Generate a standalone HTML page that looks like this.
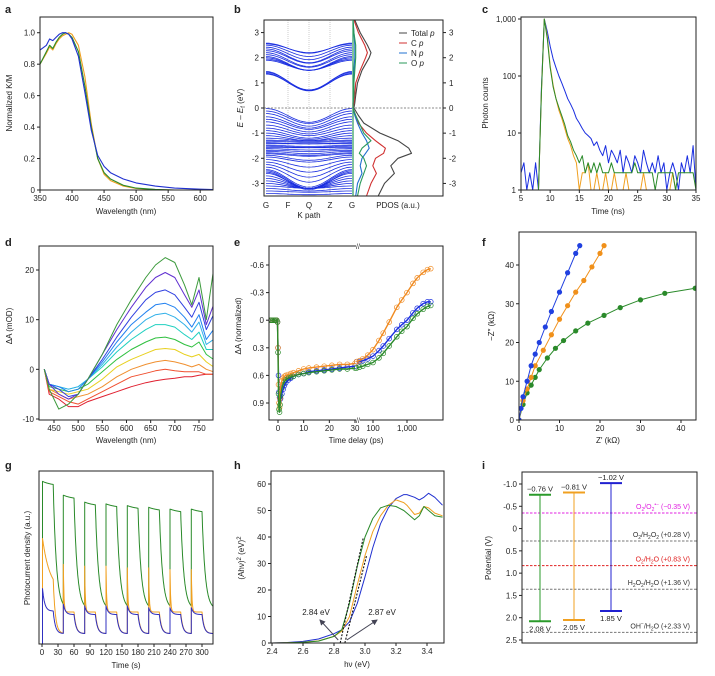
<!DOCTYPE html>
<html><head><meta charset="utf-8"><style>
html,body{margin:0;padding:0;background:#fff;}
svg{display:block;font-family:"Liberation Sans",sans-serif;}
</style></head><body>
<svg id="fig" width="715" height="676" viewBox="0 0 715 676" xmlns="http://www.w3.org/2000/svg">
<defs><marker id="ah" markerWidth="6" markerHeight="6" refX="5" refY="3" orient="auto"><path d="M0,0 L6,3 L0,6 Z" fill="#445"/></marker></defs>
</svg>
<script>
// ---------- data ----------
const aWl=[350,360,365,370,375,380,385,390,395,400,410,420,430,440,450,460,480,500,530,560,600,620];
const aBlue=[0.89,0.92,0.96,0.95,0.97,0.99,1.0,1.0,0.99,0.96,0.85,0.62,0.38,0.22,0.15,0.11,0.07,0.045,0.025,0.012,0.005,0.003];
const aOrange=[0.80,0.87,0.91,0.89,0.93,0.96,0.98,0.99,1.0,0.99,0.92,0.72,0.42,0.2,0.1,0.06,0.025,0.01,0.003,0,0,0];
const aGreen=[0.80,0.88,0.92,0.90,0.94,0.97,0.99,1.0,0.99,0.97,0.88,0.66,0.40,0.2,0.11,0.07,0.03,0.012,0.004,0,0,0];

const bCondE=[2.58,2.55,2.5,2.42,2.35,2.28,2.2,2.12,2.05,2.0,1.95,1.9,1.45,1.42,1.38,1.35];
const bCondDip=[0.4,0.35,0.45,0.5,0.55,0.5,0.55,0.5,0.55,0.5,0.45,0.4,0.75,0.7,0.7,0.65];
const bValE=[-0.02,-0.12,-0.22,-0.35,-0.45,-0.55,-0.68,-0.8,-0.9,-1.0,-1.1,-1.2,-1.28,-1.32,-1.38,-1.42,-1.48,-1.52,-1.58,-1.62,-1.68,-1.72,-1.78,-1.82,-1.88,-1.95,-2.05,-2.15,-2.25,-2.35,-2.45,-2.5,-2.55,-2.6,-2.7,-2.8,-2.9,-3.0,-3.1,-3.2,-3.3,-3.4];
const bValDip=[0.55,0.5,0.5,0.45,0.4,0.4,0.35,0.3,0.3,0.25,0.2,0.1,0.05,0.05,0.05,0.0,0.05,0.05,0.0,0.05,0.05,0.1,0.1,0.1,0.2,0.2,0.3,0.4,0.5,0.6,0.7,0.7,0.7,0.6,0.5,0.4,0.3,0.2,0.1,0.1,0.05,0.05];
const pE=[3.5,3,2.5,2.2,2,1.5,1,0.5,0.2,0,-0.3,-0.6,-1,-1.3,-1.6,-1.8,-2,-2.3,-2.6,-3,-3.5];
const pTotal=[0.02,0.08,0.16,0.2,0.18,0.1,0.05,0.03,0.02,0.01,0.06,0.12,0.3,0.5,0.62,0.65,0.5,0.42,0.46,0.35,0.28];
const pC=[0.01,0.06,0.13,0.16,0.14,0.08,0.03,0.02,0.01,0,0.03,0.06,0.15,0.25,0.36,0.34,0.25,0.22,0.26,0.2,0.15];
const pN=[0,0.01,0.02,0.02,0.02,0.01,0.01,0.01,0,0,0.02,0.05,0.1,0.15,0.18,0.14,0.1,0.08,0.1,0.05,0.03];
const pO=[0,0.01,0.03,0.03,0.03,0.02,0.01,0.01,0,0,0.03,0.07,0.12,0.2,0.1,0.07,0.12,0.15,0.12,0.08,0.05];

const cT0=5, cDt=0.5;
const cBlue=[2,3,1,2,1,3,1,60,1000,600,330,200,140,100,75,55,40,32,25,18,15,12,10,9,8,6,7,5,4,6,3,5,4,3,5,2,4,3,2,4,3,2,5,3,2,3,2,4,2,3,1,2,3,2,1,3,2,4,2,6,1];
const cOrange=[1,1,1,1,1,1,1,50,1000,500,150,70,40,25,18,12,8,6,4,3,1,2,2,3,1,1,2,1,1,2,1,1,2,1,1,1,2,1,1,1,1,1,2,1,1,1,1,1,1,1,1,1,2,1,1,1,1,1,1,1,1];
const cGreen=[1,1,1,1,1,1,1,50,1000,450,140,65,40,28,20,14,9,7,5,4,3,4,2,3,2,3,2,3,2,2,2,3,2,2,2,2,2,2,2,3,2,2,2,2,2,2,1,2,2,2,2,2,2,1,2,2,2,2,2,2,1];

const dWl=[430,440,460,480,500,520,550,580,610,640,660,680,700,720,735,750,765,780];
const dSeries=[
[0,-4,-8,-7,-5,-2,3,9,14,18.5,21,22.5,21.5,17,13,18.5,10,20],
[0,-3,-5,-6,-5,-2,3,8,12.5,16.5,18.5,19.5,18.5,15,12.5,16,9,13],
[0,-3,-4,-5.5,-5,-2,2,6.5,10.5,14,15.5,16,15,12.5,10.5,13.5,8,11],
[0,-3,-3.5,-4.5,-4,-2,1.5,5.5,9,11.5,13,13.3,12.5,10.5,8.5,11,6,8],
[0,-3,-3.5,-4,-3.5,-2,1,4.5,7.5,10,11,11.3,10.5,9,7.5,9.5,5,6],
[0,-3,-3.5,-4,-3.5,-2,0.5,3.5,6,8,9,9,8.5,7,6,7.5,4,4],
[0,-3.5,-4,-4.5,-4,-3,-0.5,2,4,5.5,6.3,6.5,6,5,4.5,5.5,3,2],
[0,-4,-4.5,-5,-4.5,-4,-2,0.5,2,3.2,4,4.2,4,3,2.5,3,1.5,0.5],
[0,-4,-5,-6,-5.5,-5,-3.5,-1.5,0,1,1.5,1.8,1.5,1,0.5,1,0,-0.5],
[0,-4.5,-5.5,-6.5,-7,-6,-4.5,-3,-1.5,-0.8,-0.3,0,-0.3,-0.5,-0.5,-0.5,-1,-1],
[0,-5,-6,-7.5,-7.5,-6.5,-5.5,-4.5,-3.5,-2.7,-2.3,-2,-1.8,-1.5,-1.5,-1.2,-1,-1]];
const dColors=['#3c9a3c','#6030d0','#3040e0','#2080f0','#30b0e8','#20d0c0','#30c040','#e8d020','#f09030','#f05030','#e02030'];

const eT1=[-3,-2.5,-2,-1.5,-1,-0.5,-0.2,0,0.2,0.4,0.6,0.8,1,1.5,2,2.5,3,4,5,6,8,10,12,15,18,21,24,27,30];
const eBlue1=[0,0,0,0,0,0,0.02,0.3,0.6,0.78,0.84,0.86,0.85,0.8,0.75,0.71,0.68,0.65,0.63,0.61,0.59,0.58,0.56,0.55,0.54,0.53,0.52,0.51,0.5];
const eOrange1=[0,0,0,0,0,0,0.02,0.3,0.7,0.9,0.95,0.85,0.72,0.66,0.63,0.61,0.6,0.59,0.58,0.57,0.55,0.53,0.52,0.51,0.5,0.49,0.48,0.48,0.47];
const eGreen1=[0,0,0,0,0,0,0.02,0.35,0.8,0.97,1.0,0.92,0.82,0.74,0.7,0.67,0.65,0.63,0.62,0.61,0.59,0.58,0.57,0.56,0.55,0.54,0.53,0.53,0.52];
const eT2=[33,40,50,70,100,150,200,300,500,700,1000,1500,2000,3000,4000,5000];
const eBlue2=[0.45,0.45,0.44,0.42,0.39,0.33,0.28,0.2,0.1,0.05,0.0,-0.08,-0.13,-0.18,-0.2,-0.2];
const eOrange2=[0.45,0.44,0.42,0.38,0.32,0.22,0.14,0.02,-0.14,-0.22,-0.3,-0.4,-0.46,-0.52,-0.55,-0.56];
const eGreen2=[0.52,0.51,0.5,0.48,0.46,0.41,0.36,0.28,0.18,0.12,0.07,-0.02,-0.07,-0.12,-0.15,-0.16];

const fBlueX=[0,0.5,1,2,3,4,5,6.5,8,10,12,14,15];
const fBlueY=[0,3,6,10,14,17,20,24,28,33,38,43,45];
const fOrangeX=[0,1,2,3,4,6,8,10,12,14,16,18,20,21];
const fOrangeY=[0,5,8,11,14,18,22,26,29.5,33,36,39.5,43,45];
const fGreenX=[0,1,2,3,4,5,7,9,11,14,17,21,25,30,36,43.5];
const fGreenY=[0,4,7,9,11,13,16,18.5,20.5,23,25,27,29,31,32.7,34];

const gOn=[1,40,80,120,160,200,240,280];
const gGreenPeak=[0.94,0.86,0.82,0.81,0.8,0.79,0.78,0.78];
const gOrangePeak=[0.61,0.46,0.45,0.45,0.44,0.44,0.43,0.43];
const gOrangeTau=[14,1.2,1.2,1.2,1.2,1.2,1.2,1.2];
const gBluePeak=[0.32,0.23,0.22,0.22,0.22,0.21,0.21,0.21];

const hHv=[2.4,2.5,2.6,2.7,2.8,2.85,2.9,2.95,3.0,3.05,3.1,3.15,3.2,3.25,3.27,3.32,3.35,3.38,3.41,3.45,3.5];
const hBlue=[0,0.2,0.6,1.5,3.5,5,8,15,25,36,45,51,54.5,56,56,55,54,55,56.5,55,52];
const hOrange=[0,0.1,0.3,0.8,2.5,4.5,10,22,33,42,48,52,54,53,52,48.5,49,51.5,51,49,48];
const hGreen=[0,0.1,0.3,0.7,2.5,5,15,29,40,47,51,52,51.5,50,49,46.5,48,51.5,50,48,47.5];
const hGaps=[2.84,2.87];

const iCB=[-0.76,-0.81,-1.02];
const iVB=[2.08,2.05,1.85];
const iRedox=[-0.35,0.28,0.83,1.36,2.33];

// ---------- helpers ----------
const NS='http://www.w3.org/2000/svg';
const svg=document.getElementById('fig');
function mk(tag,attrs,name,parent){
  const e=document.createElementNS(NS,tag);
  for(const k in attrs) e.setAttribute(k,attrs[k]);
  
  
  (parent||svg).appendChild(e);return e;}
function T(x,y,s,name,o){o=o||{};
  const e=mk('text',{x:x,y:y,'font-size':o.fs||8,'text-anchor':o.a||'middle',fill:o.c||'#222','font-weight':o.w||'normal'},name);
  if(o.rot) e.setAttribute('transform','rotate(-90 '+x+' '+y+')');
  if(o.html) e.innerHTML=s; else e.textContent=s; return e;}
function lin(d0,d1,r0,r1){return v=>r0+(v-d0)/(d1-d0)*(r1-r0);}
function line(x1,y1,x2,y2,c,name,o){o=o||{};
  const e=mk('line',{x1:x1,y1:y1,x2:x2,y2:y2,stroke:c,'stroke-width':o.w||1},name);
  if(o.dash) e.setAttribute('stroke-dasharray',o.dash);
  if(o.arrow) e.setAttribute('marker-end','url(#ah)');return e;}
function poly(xs,ys,sx,sy,c,name,w,clip){
  const pts=xs.map((x,i)=>sx(x).toFixed(1)+','+sy(ys[i]).toFixed(1)).join(' ');
  const e=mk('polyline',{points:pts,fill:'none',stroke:c,'stroke-width':w||1,'stroke-linejoin':'round'},name);
  if(clip) e.setAttribute('clip-path','url(#'+clip+')');return e;}
function frame(x0,y0,x1,y1,name){mk('rect',{x:x0,y:y0,width:x1-x0,height:y1-y0,fill:'none',stroke:'#222','stroke-width':1},name);}
function clipRect(id,x0,y0,x1,y1){const d=mk('clipPath',{id:id},'clip-'+id);mk('rect',{x:x0,y:y0,width:x1-x0,height:y1-y0},'clip-rect',d);}
function xTicks(sx,vals,labels,y,name){vals.forEach((v,i)=>{line(sx(v),y,sx(v),y+3,'#222',name+'-tick');T(sx(v),y+11,labels[i],name+'-label');});}
function yTicks(sy,vals,labels,x,name,right){vals.forEach((v,i)=>{
  line(x,sy(v),right?x+3:x-3,sy(v),'#222',name+'-tick');
  T(right?x+6:x-5,sy(v)+3,labels[i],name+'-label',{a:right?'start':'end'});});}
function letter(x,y,s){T(x,y,s,'panel-label-'+s,{fs:11,w:'bold',a:'start'});}

// ---------- panel a ----------
(function(){
 const sx=lin(350,620,40,213), sy=lin(0,1.1,190,17);
 clipRect('ca',40,17,213,190);
 poly(aWl,aOrange,sx,sy,'#f0a020','a-orange-curve',1.1,'ca');
 poly(aWl,aGreen,sx,sy,'#2a8a2a','a-green-curve',1.1,'ca');
 poly(aWl,aBlue,sx,sy,'#2030d0','a-blue-curve',1.1,'ca');
 frame(40,17,213,190,'a-plot-frame');
 xTicks(sx,[350,400,450,500,550,600],['350','400','450','500','550','600'],190,'a-x');
 yTicks(sy,[0,0.2,0.4,0.6,0.8,1.0],['0','0.2','0.4','0.6','0.8','1.0'],40,'a-y');
 T(126,214,'Wavelength (nm)','a-x-title');
 T(12,103,'Normalized K/M','a-y-title',{rot:1});
 letter(5,13,'a');
})();

// ---------- panel b ----------
(function(){
 const sy=lin(-3.5,3.5,196,20), sk=lin(0,1,266,352), sp=lin(0,1,353,443);
 clipRect('cb',264,20,353,196);
 [288,309,330].forEach(x=>line(x,20,x,196,'#ccc','b-kpoint-gridline',{dash:'1,1'}));
 const ks=[];for(let i=0;i<=30;i++)ks.push(i/30);
 function band(e0,dip,name){poly(ks,ks.map(k=>e0-dip*Math.pow(Math.sin(Math.PI*k),2)),sk,sy,'#1a2ee0',name,0.8,'cb');}
 bCondE.forEach((e,i)=>band(e,bCondDip[i],'b-conduction-band'));
 bValE.forEach((e,i)=>band(e,bValDip[i],'b-valence-band'));
 line(264,sy(0),443,sy(0),'#888','b-fermi-level',{dash:'2,1.5'});
 poly(pTotal,pE,sp,sy,'#444','b-pdos-total',1.1);
 poly(pC,pE,sp,sy,'#d03030','b-pdos-c',1.1);
 poly(pN,pE,sp,sy,'#2070d0','b-pdos-n',1.1);
 poly(pO,pE,sp,sy,'#2a9a5a','b-pdos-o',1.1);
 frame(264,20,443,196,'b-plot-frame');
 line(353,20,353,196,'#2a9a5a','b-divider',{w:1.2});
 yTicks(sy,[3,2,1,0,-1,-2,-3],['3','2','1','0','-1','-2','-3'],264,'b-y-left');
 yTicks(sy,[3,2,1,0,-1,-2,-3],['3','2','1','0','-1','-2','-3'],443,'b-y-right',true);
 ['G','F','Q','Z','G'].forEach((s,i)=>T([266,288,309,330,352][i],208,s,'b-kpoint-label'));
 T(309,218,'K path','b-x-title');
 T(398,208,'PDOS (a.u.)','b-pdos-title');
 T(243,108,'<tspan font-style="italic">E</tspan> – <tspan font-style="italic">E</tspan><tspan font-size="6" dy="2">f</tspan><tspan dy="-2"> (eV)</tspan>','b-y-title',{rot:1,html:1});
 const leg=[['Total','#444'],['C','#d03030'],['N','#2070d0'],['O','#2a9a5a']];
 leg.forEach((l,i)=>{const y=33+i*10;line(399,y,407,y,l[1],'b-legend-swatch');
  T(411,y+3,l[0]+' <tspan font-style="italic">p</tspan>','b-legend-entry',{a:'start',html:1});});
 letter(234,13,'b');
})();

// ---------- panel c ----------
(function(){
 const sx=lin(5,35,521,696), sy=v=>190-Math.log10(v)/3*171;
 const ts=cBlue.map((_,i)=>cT0+i*cDt);
 clipRect('cc',521,17,696,190);
 poly(ts,cBlue,sx,sy,'#1a2ee0','c-blue-decay',1,'cc');
 poly(ts,cOrange,sx,sy,'#f0a020','c-orange-decay',1,'cc');
 poly(ts,cGreen,sx,sy,'#2a8a2a','c-green-decay',1,'cc');
 frame(521,17,696,190,'c-plot-frame');
 xTicks(sx,[5,10,15,20,25,30,35],['5','10','15','20','25','30','35'],190,'c-x');
 yTicks(sy,[1,10,100,1000],['1','10','100','1,000'],521,'c-y');
 T(608,214,'Time (ns)','c-x-title');
 T(488,103,'Photon counts','c-y-title',{rot:1});
 letter(482,13,'c');
})();

// ---------- panel d ----------
(function(){
 const sx=lin(450,750,54,199), sy=lin(-10,20,419,270);
 clipRect('cd',39,246,213,420);
 for(let i=dSeries.length-1;i>=0;i--) poly(dWl,dSeries[i],sx,sy,dColors[i],'d-spectrum-'+i,1,'cd');
 frame(39,246,213,420,'d-plot-frame');
 xTicks(sx,[450,500,550,600,650,700,750],['450','500','550','600','650','700','750'],420,'d-x');
 yTicks(sy,[-10,0,10,20],['-10','0','10','20'],39,'d-y');
 T(126,443,'Wavelength (nm)','d-x-title');
 T(12,326,'ΔA (mOD)','d-y-title',{rot:1});
 letter(5,246,'d');
})();

// ---------- panel e ----------
(function(){
 const sx1=lin(0,30,278,355), sx2=v=>373+(Math.log10(v)-2)*34, sy=lin(-0.6,0.9,265,403);
 clipRect('ce',269,246,443,420);
 const sets=[[eBlue1,eBlue2,'#1a2ee0','blue'],[eOrange1,eOrange2,'#f08a20','orange'],[eGreen1,eGreen2,'#2a8a2a','green']];
 sets.forEach(s=>{
  eT1.forEach((t,i)=>mk('circle',{cx:sx1(t),cy:sy(s[0][i]),r:2.4,fill:'none',stroke:s[2],'stroke-width':0.7,'clip-path':'url(#ce)'},'e-'+s[3]+'-marker'));
  eT2.forEach((t,i)=>mk('circle',{cx:sx2(t),cy:sy(s[1][i]),r:2.4,fill:'none',stroke:s[2],'stroke-width':0.7,'clip-path':'url(#ce)'},'e-'+s[3]+'-marker'));
 });
 sets.forEach(s=>{
  poly(eT1,s[0],sx1,sy,s[2],'e-'+s[3]+'-fit-early',1.4,'ce');
  poly(eT2,s[1],sx2,sy,s[2],'e-'+s[3]+'-fit-late',1.4,'ce');
 });
 frame(269,246,443,420,'e-plot-frame');
 mk('rect',{x:356,y:242,width:4,height:8,fill:'#fff'},'e-break-gap-top');
 mk('rect',{x:356,y:416,width:4,height:8,fill:'#fff'},'e-break-gap-bottom');
 T(358,249,'//','e-axis-break-top',{fs:7});
 T(358,423,'//','e-axis-break-bottom',{fs:7});
 yTicks(sy,[-0.6,-0.3,0,0.3,0.6,0.9],['-0.6','-0.3','0','0.3','0.6','0.9'],269,'e-y');
 xTicks(sx1,[0,10,20,30],['0','10','20','30'],420,'e-x-linear');
 xTicks(sx2,[100,1000],['100','1,000'],420,'e-x-log');
 T(356,443,'Time delay (ps)','e-x-title');
 T(241,326,'ΔA (normalized)','e-y-title',{rot:1});
 letter(234,246,'e');
})();

// ---------- panel f ----------
(function(){
 const sx=lin(0,40,519,681), sy=lin(0,40,420,265);
 clipRect('cf',519,232,696,420);
 const sets=[[fGreenX,fGreenY,'#2a8a2a','green'],[fOrangeX,fOrangeY,'#f0901a','orange'],[fBlueX,fBlueY,'#2040e0','blue']];
 sets.forEach(s=>{poly(s[0],s[1],sx,sy,s[2],'f-'+s[3]+'-line',1,'cf');
  s[0].forEach((x,i)=>mk('circle',{cx:sx(x),cy:sy(s[1][i]),r:2.6,fill:s[2],'clip-path':'url(#cf)'},'f-'+s[3]+'-point'));});
 frame(519,232,696,420,'f-plot-frame');
 xTicks(sx,[0,10,20,30,40],['0','10','20','30','40'],420,'f-x');
 yTicks(sy,[0,10,20,30,40],['0','10','20','30','40'],519,'f-y');
 T(608,443,"Z′ (kΩ)",'f-x-title');
 T(494,326,"−Z″ (kΩ)",'f-y-title',{rot:1});
 letter(482,246,'f');
})();

// ---------- panel g ----------
(function(){
 const sx=lin(0,300,42,202), sy=lin(0,1,644,471);
 clipRect('cg',39,471,213,644);
 function trace(peaks,plat,base,taus,tauOff,name,c){
  const xs=[-5],ys=[0];let cur=0;
  gOn.forEach((t0,k)=>{
   xs.push(t0);ys.push(cur);
   const pk=peaks[k],pl=plat(pk,k);
   for(let s=0;s<=20;s+=0.5){xs.push(t0+s);ys.push(pl+(pk-pl)*Math.exp(-s/taus[k]));}
   const v0=ys[ys.length-1];const tEnd=k<gOn.length-1?gOn[k+1]:330;
   for(let s=0.5;s<=tEnd-t0-20;s+=0.5){xs.push(t0+20+s);ys.push(base+(v0-base)*Math.exp(-s/tauOff));}
   cur=ys[ys.length-1];});
  poly(xs,ys,sx,sy,c,name,1,'cg');}
 trace(gGreenPeak,p=>p*0.97,0.2,[20,20,20,20,20,20,20,20],6,'g-green-photocurrent','#2a8a2a');
 trace(gOrangePeak,(p,k)=>k===0?0.3:0.185,0.06,gOrangeTau,4,'g-orange-photocurrent','#f0a020');
 trace(gBluePeak,(p,k)=>k===0?0.19:0.17,0.06,[4,4,4,4,4,4,4,4],4,'g-blue-photocurrent','#3030c0');
 frame(39,471,213,644,'g-plot-frame');
 xTicks(sx,[0,30,60,90,120,150,180,210,240,270,300],['0','30','60','90','120','150','180','210','240','270','300'],644,'g-x');
 T(126,668,'Time (s)','g-x-title');
 T(30,558,'Photocurrent density (a.u.)','g-y-title',{rot:1});
 letter(5,469,'g');
})();

// ---------- panel h ----------
(function(){
 const sx=lin(2.4,3.4,272,427), sy=lin(0,60,643,484);
 clipRect('ch',271,471,444,643);
 poly(hHv,hBlue,sx,sy,'#2030d0','h-blue-curve',1,'ch');
 poly(hHv,hOrange,sx,sy,'#f0a020','h-orange-curve',1,'ch');
 poly(hHv,hGreen,sx,sy,'#2a8a2a','h-green-curve',1,'ch');
 line(sx(hGaps[0]),sy(0),sx(2.99),sy(40),'#111','h-tangent-green',{dash:'2,1.5',w:1.1});
 line(sx(hGaps[1]),sy(0),sx(3.01),sy(33),'#111','h-tangent-orange',{dash:'2,1.5',w:1.1});
 line(sx(hGaps[0])-2,sy(0)-3,320,620,'#445','h-arrow-284',{arrow:1});
 line(sx(hGaps[1])+2,sy(0)-3,377,620,'#445','h-arrow-287',{arrow:1});
 T(316,615,hGaps[0].toFixed(2)+' eV','h-gap-label-284');
 T(382,615,hGaps[1].toFixed(2)+' eV','h-gap-label-287');
 frame(271,471,444,643,'h-plot-frame');
 xTicks(sx,[2.4,2.6,2.8,3.0,3.2,3.4],['2.4','2.6','2.8','3.0','3.2','3.4'],643,'h-x');
 yTicks(sy,[0,10,20,30,40,50,60],['0','10','20','30','40','50','60'],271,'h-y');
 T(357,667,'hν (eV)','h-x-title');
 T(244,558,'(Ahν)<tspan font-size="6" dy="-3">2</tspan><tspan dy="3"> (eV)</tspan><tspan font-size="6" dy="-3">2</tspan>','h-y-title',{rot:1,html:1});
 letter(234,469,'h');
})();

// ---------- panel i ----------
(function(){
 const sy=lin(-1,2.5,484,640);
 const bars=[[540,'#2a9a2a','green'],[574,'#f0a020','orange'],[611,'#2020d0','blue']];
 const rc=['#e020e0','#777','#e02020','#777','#777'];
 const rl=['O<tspan font-size="5" dy="2">2</tspan><tspan dy="-2">/O</tspan><tspan font-size="5" dy="2">2</tspan><tspan font-size="5" dy="-5">•−</tspan><tspan dy="3"> (−0.35 V)</tspan>',
  'O<tspan font-size="5" dy="2">2</tspan><tspan dy="-2">/H</tspan><tspan font-size="5" dy="2">2</tspan><tspan dy="-2">O</tspan><tspan font-size="5" dy="2">2</tspan><tspan dy="-2"> (+0.28 V)</tspan>',
  'O<tspan font-size="5" dy="2">2</tspan><tspan dy="-2">/H</tspan><tspan font-size="5" dy="2">2</tspan><tspan dy="-2">O (+0.83 V)</tspan>',
  'H<tspan font-size="5" dy="2">2</tspan><tspan dy="-2">O</tspan><tspan font-size="5" dy="2">2</tspan><tspan dy="-2">/H</tspan><tspan font-size="5" dy="2">2</tspan><tspan dy="-2">O (+1.36 V)</tspan>',
  'OH<tspan font-size="5" dy="-3">−</tspan><tspan dy="3">/H</tspan><tspan font-size="5" dy="2">2</tspan><tspan dy="-2">O (+2.33 V)</tspan>'];
 iRedox.forEach((v,i)=>{line(522,sy(v),697,sy(v),rc[i],'i-redox-line',{dash:'2.5,1.5'});
  T(690,sy(v)-4,rl[i],'i-redox-label',{html:1,a:'end',fs:7,c:i===0?'#e020e0':(i===2?'#e02020':'#333')});});
 bars.forEach((b,i)=>{const x=b[0];
  line(x-11,sy(iCB[i]),x+11,sy(iCB[i]),b[1],'i-'+b[2]+'-cb',{w:2});
  line(x-11,sy(iVB[i]),x+11,sy(iVB[i]),b[1],'i-'+b[2]+'-vb',{w:2});
  line(x,sy(iCB[i]),x,sy(iVB[i]),b[1],'i-'+b[2]+'-gap');
  T(x,sy(iCB[i])-3,iCB[i].toFixed(2).replace('-','−')+' V','i-'+b[2]+'-cb-label',{fs:7.5});
  T(x,sy(iVB[i])+10,iVB[i].toFixed(2)+' V','i-'+b[2]+'-vb-label',{fs:7.5});});
 frame(522,472,697,643,'i-plot-frame');
 yTicks(sy,[-1,-0.5,0,0.5,1,1.5,2,2.5],['-1.0','-0.5','0','0.5','1.0','1.5','2.0','2.5'],522,'i-y');
 T(491,558,'Potential (V)','i-y-title',{rot:1});
 letter(482,469,'i');
})();
</script>
</body></html>
